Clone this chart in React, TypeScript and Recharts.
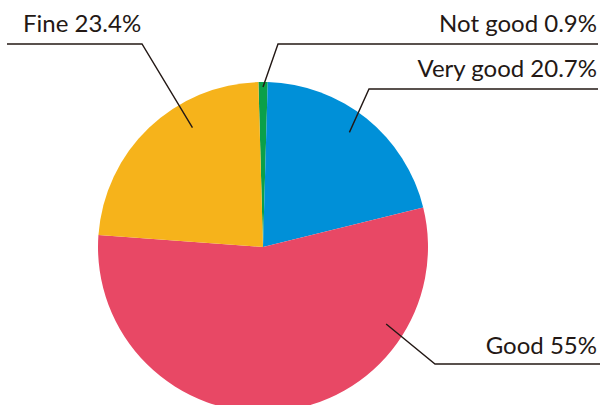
import React from "react";
import { PieChart, Pie, Cell } from "recharts";

const categories = ["Not good", "Very good", "Good", "Fine"];
const shares = [0.9, 20.7, 55, 23.4];
const colors = ["#0BA04A", "#0090D8", "#E84865", "#F6B31B"];

const data = categories.map((name, i) => ({ name, value: shares[i] }));

// label leader layout: anchor angle (deg), anchor radius fraction, elbow offset from center, end x, text side
const leaderLayout = [
  { angle: 90, rf: 0.97, ex: 15, ey: -203, endX: 598, anchor: "end", tx: 597, tdy: -12 },
  { angle: 53, rf: 0.87, ex: 106, ey: -158, endX: 598, anchor: "end", tx: 597, tdy: -12 },
  { angle: -32, rf: 0.88, ex: 172, ey: 117, endX: 600, anchor: "end", tx: 597, tdy: -10 },
  { angle: 120.6, rf: 0.84, ex: -121, ey: -203, endX: 7, anchor: "start", tx: 23, tdy: -12 },
];

const RAD = Math.PI / 180;

const renderLabel = (props: any) => {
  const { cx, cy, outerRadius, index, name, value } = props;
  const l = leaderLayout[index];
  const sx = cx + outerRadius * l.rf * Math.cos(l.angle * RAD);
  const sy = cy - outerRadius * l.rf * Math.sin(l.angle * RAD);
  const mx = cx + l.ex;
  const my = cy + l.ey;
  return (
    <g>
      <polyline
        points={`${sx},${sy} ${mx},${my} ${l.endX},${my}`}
        fill="none"
        stroke="#231815"
        strokeWidth={1.4}
      />
      <text
        x={l.tx}
        y={my + l.tdy}
        textAnchor={l.anchor}
        fill="#231815"
        fontSize={24}
        fontFamily="Lato, Roboto, sans-serif"
      >
        {`${name} ${value}%`}
      </text>
    </g>
  );
};

export default function App() {
  return (
    <div style={{ position: "absolute", left: 0, top: 0, width: 602, height: 405, overflow: "hidden", background: "#fff" }}>
      <PieChart width={602} height={405} margin={{ top: 0, right: 0, bottom: 0, left: 0 }}>
        <Pie
          data={data}
          dataKey="value"
          nameKey="name"
          cx={263}
          cy={247}
          outerRadius={165}
          startAngle={91.6}
          endAngle={91.6 - 360}
          stroke="none"
          label={renderLabel}
          labelLine={false}
          isAnimationActive={false}
        >
          {data.map((d, i) => (
            <Cell key={d.name} fill={colors[i]} />
          ))}
        </Pie>
      </PieChart>
    </div>
  );
}
